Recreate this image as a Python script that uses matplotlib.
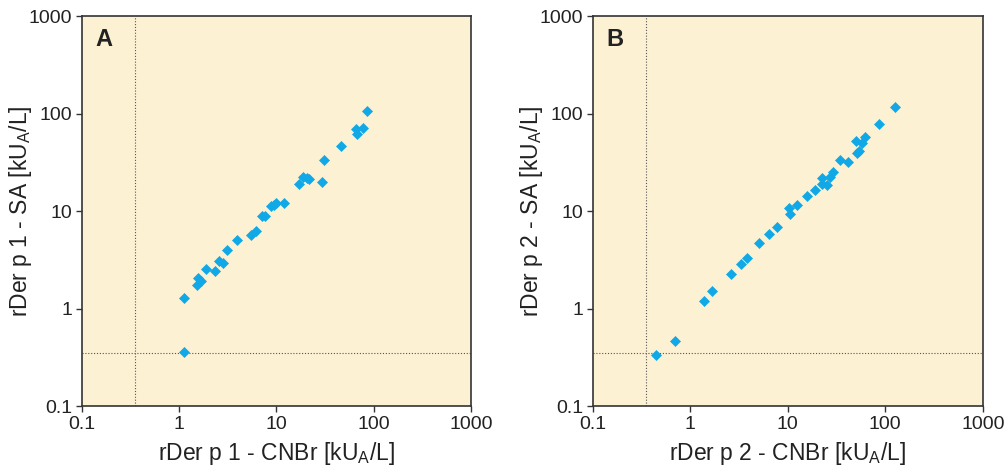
import matplotlib
matplotlib.use("Agg")
import matplotlib.pyplot as plt
from matplotlib.ticker import FixedLocator, NullLocator

plt.rcParams['font.family'] = ['Liberation Sans', 'DejaVu Sans']
plt.rcParams['mathtext.fontset'] = 'custom'
plt.rcParams['mathtext.rm'] = 'Liberation Sans'
plt.rcParams['mathtext.it'] = 'Liberation Sans:italic'

# panel A: rDer p 1, CNBr vs SA
a_cnbr = [86.1, 65.2, 78.3, 67.9, 45.7, 30.7, 29.3, 18.7, 21.5, 17.1, 20.7,
          12.0, 10.0, 9.5, 8.7, 7.65, 7.12, 6.1, 5.43, 3.96, 3.10, 2.80, 2.57,
          2.33, 1.90, 1.67, 1.56, 1.52, 1.13, 1.11]
a_sa = [107, 69.3, 70.5, 61.6, 46.4, 33.4, 20.0, 22.5, 21.1, 19.1, 21.7,
        12.0, 12.2, 11.4, 11.2, 8.9, 8.9, 6.2, 5.7, 5.0, 4.0, 2.95, 3.09,
        2.44, 2.52, 1.90, 2.04, 1.75, 1.27, 0.36]

# panel B: rDer p 2, CNBr vs SA
b_cnbr = [125.7, 86.8, 62.4, 58.1, 50.1, 54.2, 50.9, 34.1, 41.8, 29.1, 27.1,
          22.3, 22.3, 25.3, 19.0, 15.8, 12.5, 10.4, 10.6, 7.71, 6.43, 5.04,
          3.83, 3.32, 2.62, 1.66, 1.40, 0.70, 0.45]
b_sa = [115.8, 77.5, 57.4, 50.2, 52.6, 41.2, 39.1, 33.6, 32.0, 24.9, 22.2,
        21.6, 19.1, 18.6, 16.3, 14.1, 11.5, 10.8, 9.25, 6.85, 5.85, 4.73,
        3.27, 2.84, 2.24, 1.51, 1.19, 0.46, 0.33]

cutoff = 0.35
ticks = [0.1, 1, 10, 100, 1000]
tick_labels = ['0.1', '1', '10', '100', '1000']

bg = '#fdf1d4'
blue = '#10a8e6'

fig = plt.figure(figsize=(10.08, 4.73), dpi=100)
axA = fig.add_axes([0.0813, 0.1416, 0.386, 0.8245])
axB = fig.add_axes([0.588, 0.1416, 0.387, 0.8245])

panels = [(axA, a_cnbr, a_sa, 'A', '1'), (axB, b_cnbr, b_sa, 'B', '2')]
for ax, x, y, letter, n in panels:
    ax.set_facecolor(bg)
    ax.set_xscale('log')
    ax.set_yscale('log')
    ax.set_xlim(0.1, 1000)
    ax.set_ylim(0.1, 1000)
    ax.axvline(cutoff, color='#555555', ls=(0, (1, 1.6)), lw=0.8, zorder=1)
    ax.axhline(cutoff, color='#555555', ls=(0, (1, 1.6)), lw=0.8, zorder=1)
    ax.plot(x, y, 'D', color=blue, ms=5.5, mec=blue, mew=0.5, zorder=3)
    ax.xaxis.set_major_locator(FixedLocator(ticks))
    ax.yaxis.set_major_locator(FixedLocator(ticks))
    ax.xaxis.set_minor_locator(NullLocator())
    ax.yaxis.set_minor_locator(NullLocator())
    ax.set_xticklabels(tick_labels)
    ax.set_yticklabels(tick_labels)
    ax.tick_params(direction='out', length=4, width=1, labelsize=14,
                   colors='#333333', labelcolor='#222222', pad=3)
    for s in ax.spines.values():
        s.set_color('#333333')
        s.set_linewidth(1.2)
    ax.set_xlabel('rDer p %s - CNBr [kU$_{\\rm A}$/L]' % n, fontsize=16.5,
                  color='#222222')
    ax.set_ylabel('rDer p %s - SA [kU$_{\\rm A}$/L]' % n, fontsize=16.5,
                  color='#222222')
    ax.xaxis.set_label_coords(0.5, -0.088)
    ax.yaxis.set_label_coords(-0.122, 0.5)
    ax.text(0.035, 0.97, letter, transform=ax.transAxes, fontsize=17,
            fontweight='bold', color='#222222', va='top', ha='left')

fig.savefig('out.png', dpi=100)
